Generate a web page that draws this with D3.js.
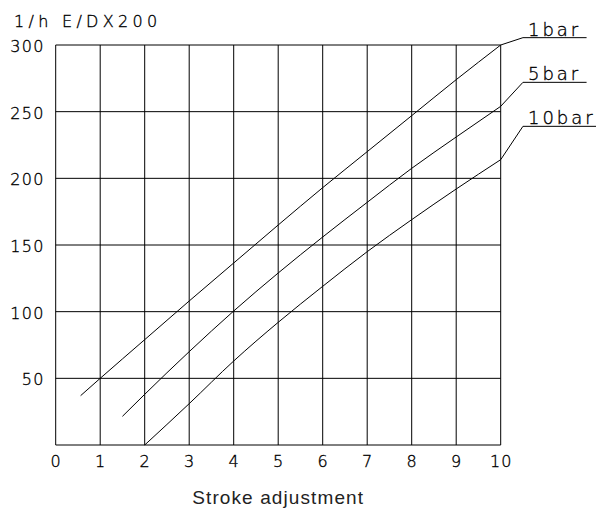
<!DOCTYPE html>
<html><head><meta charset="utf-8">
<script src="https://cdn.jsdelivr.net/npm/d3@7"></script>
<style>
body{margin:0;background:#fff;}
svg{display:block;}
.num{font-family:"DejaVu Sans",sans-serif;font-weight:200;fill:#000;stroke:#000;stroke-width:0.35px;}
</style></head>
<body><svg id="c" width="596" height="508"></svg>
<script>
const xTicks = [0,1,2,3,4,5,6,7,8,9,10];
const yTicks = [50,100,150,200,250,300];
const seriesNames = ["1bar","5bar","10bar"];
const x1bar  = [0.56, 1, 2, 3, 4, 5, 6, 7, 8, 9, 10];
const y1bar  = [37, 50, 79, 108, 136.5, 165, 193, 220, 247, 274, 300];
const x5bar  = [1.5, 2, 3, 4, 5, 6, 7, 8, 9, 10];
const y5bar  = [21.5, 38, 70, 100.5, 129, 156, 182, 207.5, 231, 254];
const x10bar = [2, 3, 4, 5, 6, 7, 8, 9, 10];
const y10bar = [0, 31, 63, 92, 119, 145, 169, 192, 214];
// label leader knee (data units) and line end
const labelKneeY = [305.5, 272, 239];
const labelKneeX = 10.5;
const labelEndX = [11.93, 11.93, 12.15];
const titleText = "1/h E/DX200";
const xTitle = "Stroke adjustment";

const svg = d3.select("#c");
const x = d3.scaleLinear().domain([0,10]).range([55.7,500.7]);
const y = d3.scaleLinear().domain([0,300]).range([445,45]);

const g = svg.append("g");
// grid
g.selectAll(".vg").data(xTicks).join("line")
  .attr("x1",d=>x(d)).attr("x2",d=>x(d)).attr("y1",y(0)).attr("y2",y(300))
  .attr("stroke","#000").attr("stroke-width",1);
g.selectAll(".hg").data([0].concat(yTicks)).join("line")
  .attr("y1",d=>y(d)).attr("y2",d=>y(d)).attr("x1",x(0)).attr("x2",x(10))
  .attr("stroke","#000").attr("stroke-width",1);

// axes labels via d3 axes (no lines)
const xAxis = g.append("g").attr("transform",`translate(0,${y(0)})`)
  .call(d3.axisBottom(x).tickValues(xTicks).tickSize(0).tickPadding(11).tickFormat(d3.format("d")));
xAxis.select(".domain").remove();
xAxis.selectAll("text").attr("class","num").attr("font-size",16).attr("dy","0.71em").style("letter-spacing","1px");

const yAxis = g.append("g").attr("transform",`translate(${x(0)},0)`)
  .call(d3.axisLeft(y).tickValues(yTicks).tickSize(0).tickPadding(11).tickFormat(d3.format("d")));
yAxis.select(".domain").remove();
yAxis.selectAll("text").attr("class","num").attr("font-size",16).attr("dy","0.4em").style("letter-spacing","1.3px");

// title
svg.append("text").attr("class","num").attr("x",14).attr("y",27)
  .attr("font-size",16).style("letter-spacing","4.3px").text(titleText);

// x title
svg.append("text").attr("x",(x(0)+x(10))/2).attr("y",504).attr("text-anchor","middle")
  .attr("font-family","Liberation Sans, Arial, sans-serif").attr("font-size",19).attr("fill","#222")
  .style("letter-spacing","1.1px")
  .text(xTitle);

// curves
const series = [
  {xs:x1bar, ys:y1bar},
  {xs:x5bar, ys:y5bar},
  {xs:x10bar, ys:y10bar}
];
const curve = d3.line().x(d=>x(d[0])).y(d=>y(d[1])).curve(d3.curveMonotoneX);
const line = d3.line().x(d=>x(d[0])).y(d=>y(d[1])).curve(d3.curveLinear);
series.forEach((s,i)=>{
  const pts = s.xs.map((v,j)=>[v,s.ys[j]]);
  g.append("path").attr("d",curve(pts)).attr("fill","none").attr("stroke","#000").attr("stroke-width",1);
  const last = pts[pts.length-1];
  const lead = [last,[labelKneeX,labelKneeY[i]],[labelEndX[i],labelKneeY[i]]];
  g.append("path").attr("d",line(lead)).attr("fill","none").attr("stroke","#000").attr("stroke-width",1);
  g.append("text").attr("class","num").attr("x",x(labelKneeX)+5).attr("y",y(labelKneeY[i])-2)
    .attr("font-size",18).style("letter-spacing","3px").text(seriesNames[i]);
});
</script></body></html>
